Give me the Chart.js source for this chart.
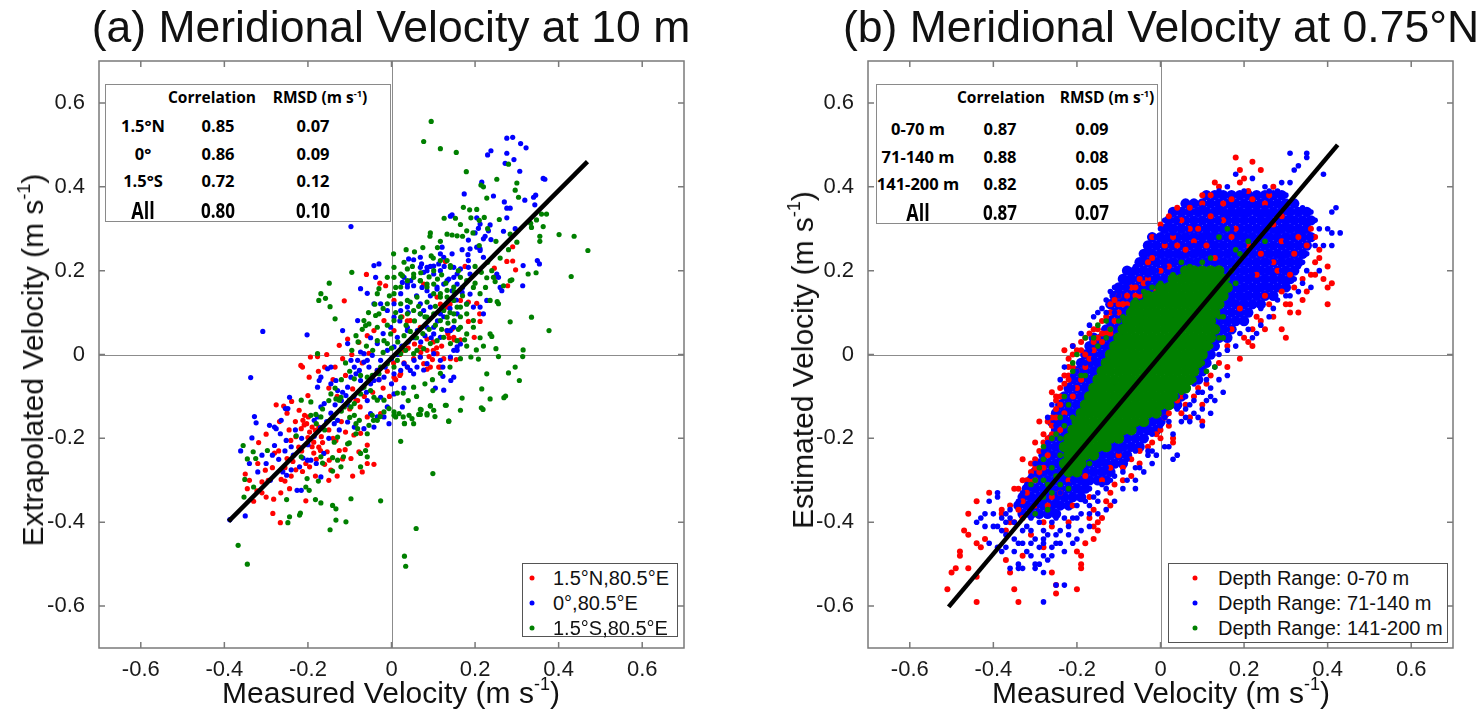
<!DOCTYPE html>
<html>
<head>
<meta charset="utf-8">
<script src="https://cdn.jsdelivr.net/npm/chart.js@4.4.1/dist/chart.umd.min.js"></script>
<style>
  body { margin: 0; background: #fff; width: 1484px; height: 721px; position: relative; overflow: hidden;
         font-family: "Liberation Sans", Arial, sans-serif; color: #111; }
  canvas { position: absolute; top: 0; }
  .c { position: absolute; transform: translate(-50%, -50%); white-space: nowrap; }
  .l { position: absolute; transform: translate(0, -50%); white-space: nowrap; }
  .ttl { font-size: 44.5px; }
  .axt { font-size: 30px; }
  .yt { transform: translate(-50%, -50%) rotate(-90deg); }
  .box { position: absolute; background: #fff; }
  .tb { font-family: "Open Sans", sans-serif; font-weight: 700; color: #000; }
  .dot { position: absolute; width: 5px; height: 5px; border-radius: 50%; transform: translate(-50%, -50%); }
  sup { font-size: 60%; vertical-align: 0.7em; line-height: 0; }
</style>
</head>
<body>
<canvas id="chartA" width="740" height="721" style="left:0"></canvas>
<canvas id="chartB" width="744" height="721" style="left:740px"></canvas>
<script>
// axis ticks shared by both panels
const tickVals = [-0.6, -0.4, -0.2, 0, 0.2, 0.4, 0.6];

// ---- panel (a): meridional velocity at 10 m ----
const seriesA = ['1.5°N,80.5°E', '0°,80.5°E', '1.5°S,80.5°E'];
const rowsA = ['1.5°N', '0°', '1.5°S', 'All'];
const corrA = ['0.85', '0.86', '0.72', '0.80'];
const rmsdA = ['0.07', '0.09', '0.12', '0.10'];
const fitA = [[-0.390, -0.398], [0.469, 0.460]];

const redA = [
  [-0.284,-0.379],[-0.266,-0.401],[-0.282,-0.345],[-0.310,-0.304],[-0.302,-0.276],[-0.264,-0.298],[-0.255,-0.302],
  [-0.280,-0.235],[-0.276,-0.120],[-0.258,-0.123],[-0.239,-0.112],[-0.205,-0.349],[-0.216,-0.177],[-0.212,-0.157],
  [-0.203,-0.165],[-0.199,-0.149],[-0.208,-0.145],[-0.200,-0.098],[-0.197,-0.054],[-0.217,-0.026],[-0.213,-0.030],
  [-0.194,-0.006],[-0.177,-0.005],[-0.170,-0.229],[-0.154,-0.232],[-0.149,-0.252],[-0.145,-0.276],[-0.133,-0.205],
  [-0.125,-0.229],[-0.117,-0.249],[-0.111,-0.227],[-0.097,-0.248],[-0.093,-0.290],[-0.070,-0.280],[-0.058,-0.260],
  [-0.042,-0.262],[-0.078,-0.232],[-0.058,-0.216],[-0.074,-0.188],[-0.090,-0.192],[-0.110,-0.185],[-0.221,-0.133],
  [-0.209,-0.168],[-0.196,-0.185],[-0.190,-0.173],[-0.182,-0.181],[-0.174,-0.173],[-0.168,-0.196],[-0.186,-0.209],
  [-0.200,-0.198],[-0.229,-0.196],[-0.241,-0.205],[-0.222,-0.221],[-0.186,-0.235],[-0.174,-0.221],[-0.236,-0.255],
  [-0.250,-0.248],[-0.229,-0.275],[-0.213,-0.279],[-0.196,-0.268],[-0.182,-0.290],[-0.160,-0.262],[-0.150,-0.300],
  [-0.130,-0.290],[-0.244,-0.320],[-0.340,-0.300],[-0.322,-0.325],[-0.350,-0.285],[-0.300,-0.190],[-0.318,-0.210],
  [-0.268,-0.160],[-0.250,-0.140],
  [-0.113,0.128],[-0.060,0.191],[-0.028,0.170],[-0.125,0.022],[-0.117,-0.010],[-0.105,0.037],[-0.078,0.029],
  [-0.058,0.045],[-0.042,0.057],[-0.054,0.003],[-0.034,-0.038],[-0.081,-0.110],[-0.075,-0.125],[-0.058,-0.149],
  [-0.026,-0.141],[-0.093,-0.082],[-0.140,-0.060],[-0.150,-0.080],[-0.130,-0.100],[-0.110,-0.050],[-0.160,-0.030],
  [-0.020,-0.080],[-0.005,-0.100],[0.010,-0.060],[0.030,-0.020],
  [0.109,0.002],[0.100,0.010],[0.093,-0.030],[0.117,-0.030],[0.141,-0.010],[0.155,-0.012],[0.149,0.041],
  [0.133,0.057],[0.085,0.037],[0.069,0.018],[0.053,-0.010],[0.038,-0.030],[0.022,-0.046],[0.006,-0.054],
  [0.133,0.113],[0.117,0.120],[0.069,0.065],[0.038,0.080],[0.006,0.057],[-0.018,0.081],
  [0.129,0.222],[0.176,0.210],[0.290,0.257],[0.276,0.222],[0.290,0.223],[0.297,0.202],[0.278,0.164],
  [0.246,0.206],[0.248,0.185],[0.204,0.122],[0.184,0.125],[0.184,0.079],[0.212,0.079],[0.198,0.041],
  [0.211,0.097],[0.135,0.050],[0.145,0.061],[0.138,0.040],[0.108,0.016],[0.090,-0.005],[0.098,-0.012],
  [0.113,-0.030],[0.125,-0.010],[0.150,0.035],[0.165,0.035],[0.069,-0.006],[0.030,0.010],[0.020,-0.050],
  [0.077,-0.022],[0.085,-0.035],[0.045,0.081],[0.025,0.090],[0.006,0.129],[-0.014,0.164],[0.077,0.168],
  [0.109,0.137],[0.165,0.129],[0.140,0.120],
  [-0.330,-0.350],[-0.310,-0.330],[-0.295,-0.300],[-0.285,-0.270],[-0.270,-0.230],[-0.255,-0.270],[-0.245,-0.180],
  [-0.230,-0.160],[-0.215,-0.230],[-0.205,-0.260],[-0.190,-0.220],[-0.180,-0.250],[-0.165,-0.210],[-0.150,-0.180],
  [-0.140,-0.200],[-0.120,-0.160],[-0.100,-0.130],[-0.085,-0.110],[-0.065,-0.100],[-0.045,-0.090],[-0.030,-0.060],
  [-0.010,-0.040],[0.005,-0.020],[0.020,0.000],[0.040,0.015],[0.055,0.025],[0.070,0.005],[0.085,0.010],
  [0.100,0.030],[0.120,0.020],[-0.135,-0.030],[-0.095,0.000],[-0.070,-0.020],[-0.155,0.000],[-0.175,-0.040],
  [-0.320,-0.260],[-0.345,-0.320],[-0.300,-0.340],[-0.265,-0.330],[-0.240,-0.290]
];

const blueA = [
  [-0.308,0.055],[-0.202,0.047],[-0.337,-0.055],[-0.328,-0.148],[-0.324,-0.163],[-0.292,-0.169],[-0.280,-0.173],
  [-0.276,-0.177],[-0.264,-0.157],[-0.254,-0.129],[-0.248,-0.129],[-0.244,-0.102],[-0.266,-0.189],[-0.252,-0.205],
  [-0.361,-0.230],[-0.334,-0.199],[-0.280,-0.217],[-0.216,-0.324],[-0.226,-0.324],[-0.251,-0.288],[-0.201,-0.252],
  [-0.193,-0.252],[-0.169,-0.292],[-0.162,-0.236],[-0.220,-0.268],[-0.212,-0.247],[-0.240,-0.275],[-0.350,-0.385],
  [-0.387,-0.394],[-0.185,-0.157],[-0.177,-0.149],[-0.169,-0.125],[-0.161,-0.117],[-0.177,-0.078],[-0.173,-0.062],
  [-0.153,-0.034],[-0.145,-0.030],[-0.169,-0.054],[-0.145,-0.070],[-0.133,-0.062],[-0.129,-0.086],[-0.117,-0.090],
  [-0.109,-0.098],[-0.105,-0.078],[-0.097,-0.054],[-0.089,-0.030],[-0.081,-0.014],[-0.085,-0.046],[-0.077,-0.038],
  [-0.074,-0.062],[-0.058,-0.014],[-0.054,-0.030],[-0.066,-0.018],[-0.117,0.057],[-0.105,0.026],[-0.081,0.081],
  [-0.074,0.157],[-0.058,0.146],[-0.042,0.212],[-0.030,0.216],[-0.038,0.184],[-0.042,0.121],[-0.026,0.121],
  [-0.010,0.105],[0.006,0.121],[0.022,0.145],[0.038,0.161],[0.046,0.176],[0.069,0.208],[0.085,0.208],
  [0.101,0.192],[0.117,0.200],[0.149,0.208],[0.149,0.184],[0.133,0.176],[0.109,0.161],[0.069,0.121],
  [0.077,0.105],[0.101,0.065],[0.133,0.057],[0.149,0.065],[0.038,0.065],[0.014,0.041],[-0.002,0.065],
  [0.006,0.018],[-0.010,0.010],[-0.026,-0.014],[-0.034,-0.038],[-0.042,-0.062],[-0.018,-0.054],[0.006,-0.046],
  [0.022,-0.038],[0.038,-0.030],[0.054,-0.014],[0.069,-0.006],[0.085,-0.022],[0.101,0.002],[0.117,-0.014],
  [0.149,0.010],[0.157,0.018],[0.006,-0.094],[-0.006,-0.165],[-0.018,-0.149],[-0.034,-0.149],[-0.050,-0.141],
  [-0.042,-0.173],[-0.066,-0.177],[-0.089,-0.173],[-0.105,-0.161],[-0.129,-0.157],[-0.137,-0.165],[-0.026,-0.102],
  [-0.058,-0.110],[-0.010,-0.125],[0.026,-0.125],[0.149,-0.054],[0.123,-0.030],[0.061,-0.030],[-0.066,0.002],
  [-0.074,0.006],[-0.097,-0.014],[-0.034,0.026],[-0.046,-0.002],[-0.097,0.305],
  [0.276,0.516],[0.290,0.518],[0.309,0.503],[0.322,0.493],[0.238,0.486],[0.230,0.476],[0.276,0.480],
  [0.293,0.465],[0.272,0.456],[0.307,0.437],[0.363,0.420],[0.367,0.418],[0.216,0.411],[0.244,0.378],
  [0.174,0.383],[0.270,0.364],[0.276,0.349],[0.284,0.349],[0.319,0.368],[0.340,0.375],[0.345,0.380],
  [0.343,0.357],[0.141,0.330],[0.145,0.333],[0.204,0.326],[0.212,0.311],[0.208,0.301],[0.236,0.309],
  [0.232,0.295],[0.276,0.326],[0.296,0.300],[0.268,0.294],[0.184,0.273],[0.200,0.290],[0.224,0.282],
  [0.220,0.276],[0.238,0.274],[0.204,0.256],[0.212,0.252],[0.188,0.252],[0.183,0.238],[0.169,0.250],
  [0.145,0.240],[0.121,0.256],[0.117,0.240],[0.125,0.232],[0.069,0.232],[0.072,0.216],[0.041,0.228],
  [0.053,0.226],[0.093,0.210],[0.101,0.211],[0.085,0.200],[0.077,0.196],[0.113,0.216],[0.126,0.210],
  [0.165,0.204],[0.157,0.192],[0.184,0.224],[0.184,0.208],[0.188,0.192],[0.212,0.248],[0.220,0.232],
  [0.252,0.192],[0.256,0.184],[0.260,0.160],[0.264,0.152],[0.315,0.212],[0.349,0.224],[0.354,0.216],
  [0.314,0.164],[0.030,0.184],[0.026,0.172],[0.038,0.168],[0.053,0.164],[0.073,0.160],[0.085,0.152],
  [0.093,0.140],[0.109,0.156],[0.125,0.168],[0.137,0.180],[0.157,0.168],[0.145,0.152],[0.169,0.148],
  [0.188,0.144],[0.180,0.121],[0.196,0.113],[0.212,0.113],[0.228,0.129],[0.220,0.097],[0.157,0.097],
  [0.117,0.097],[0.093,0.113],[0.069,0.097],[0.038,0.113],[0.022,0.105],[0.006,0.089],[0.038,0.057],
  [0.062,0.057],[0.085,0.065],[0.101,0.049],[0.117,0.041],[0.141,0.057],[0.165,0.025],[0.157,0.010],
  [0.141,-0.006],[0.123,-0.052],[0.142,-0.062],[0.077,-0.037],[0.053,-0.046],[0.045,-0.038],[0.030,-0.022],
  [0.105,-0.080],[0.125,-0.085],
  [-0.300,-0.260],[-0.285,-0.240],[-0.270,-0.250],[-0.255,-0.230],[-0.240,-0.220],[-0.230,-0.180],[-0.215,-0.200],
  [-0.200,-0.215],[-0.185,-0.195],[-0.170,-0.175],[-0.155,-0.160],[-0.145,-0.140],[-0.135,-0.120],[-0.120,-0.110],
  [-0.105,-0.120],[-0.090,-0.100],[-0.070,-0.080],[-0.060,-0.090],[-0.050,-0.070],[-0.030,-0.060],[-0.015,-0.030],
  [0.000,-0.010],[0.015,0.000],[0.025,0.020],[0.040,0.030],[0.055,0.040],[0.070,0.030],[0.080,0.045],
  [0.095,0.040],[0.110,0.080],[0.125,0.090],[0.140,0.110],[0.155,0.130],[0.170,0.160],[0.060,0.140],
  [0.040,0.100],[0.020,0.080],[-0.020,0.050],[-0.050,0.040],[-0.260,-0.280],[-0.290,-0.300],[-0.320,-0.280],
  [-0.340,-0.260],[-0.310,-0.240],[-0.235,-0.240],[-0.180,-0.260],[-0.150,-0.200],[-0.125,-0.180],[0.000,-0.070],
  [0.030,-0.080]
];

const greenA = [
  [-0.367,-0.455],[-0.345,-0.500],[0.031,-0.481],[0.034,-0.505],[0.059,-0.415],[0.099,-0.284],[-0.026,-0.349],
  [-0.097,-0.344],[-0.133,-0.395],[-0.147,-0.418],[-0.109,-0.399],[-0.220,-0.383],[-0.218,-0.378],[-0.244,-0.387],
  [-0.248,-0.401],[-0.251,-0.346],[-0.182,-0.346],[-0.169,-0.354],[-0.141,-0.360],[-0.133,-0.368],[-0.351,-0.298],
  [-0.330,-0.316],[-0.353,-0.340],[-0.355,-0.217],[-0.331,-0.232],[-0.345,-0.249],[-0.325,-0.248],[-0.297,-0.229],
  [-0.202,-0.296],[-0.197,-0.324],[-0.205,-0.316],[-0.175,-0.302],[0.022,-0.207],[0.069,-0.131],[0.093,-0.123],
  [0.069,-0.143],[0.085,-0.144],[0.104,-0.148],[0.129,-0.121],[0.137,-0.159],[0.031,-0.165],[0.053,-0.078],
  [0.028,-0.092],[0.014,-0.092],
  [-0.169,0.145],[-0.174,0.129],[-0.158,0.134],[-0.149,0.170],[-0.095,0.196],[-0.135,0.085],[-0.147,0.114],
  [-0.177,0.002],[-0.085,0.045],[-0.066,0.081],[-0.062,0.069],[-0.054,0.073],[-0.038,0.093],[-0.034,0.145],
  [-0.030,0.157],[-0.030,0.097],[-0.034,0.065],[-0.216,-0.109],[-0.193,-0.145],[-0.181,-0.143],[-0.193,-0.113],
  [-0.169,-0.149],[-0.228,-0.194],[-0.216,-0.244],[-0.169,-0.244],[-0.165,-0.259],[-0.141,-0.278],[-0.129,-0.252],
  [-0.141,-0.246],[-0.137,-0.209],[-0.129,-0.197],[-0.105,-0.213],[-0.101,-0.211],[-0.085,-0.189],[-0.081,-0.177],
  [-0.058,-0.189],[-0.054,-0.169],[-0.043,-0.157],[-0.046,-0.145],[-0.034,-0.157],[-0.027,-0.148],[-0.018,-0.137],
  [-0.006,-0.129],[0.006,-0.137],[0.010,-0.149],[0.028,-0.149],[0.042,-0.145],[0.065,-0.143],[0.053,-0.165],
  [-0.074,-0.236],[-0.062,-0.229],[-0.058,-0.244],[-0.074,-0.268],[-0.121,-0.268],[-0.115,-0.244],[-0.077,-0.157],
  [-0.089,-0.145],[-0.097,-0.125],[-0.089,-0.117],[-0.101,-0.109],[-0.121,-0.102],[-0.125,-0.109],[-0.113,-0.125],
  [-0.133,-0.106],[-0.145,-0.094],[-0.074,-0.094],[-0.066,-0.078],[-0.050,-0.086],[-0.042,-0.102],[-0.034,-0.109],
  [-0.018,-0.109],[-0.089,-0.058],[-0.074,-0.050],[-0.058,-0.054],[-0.046,-0.050],[-0.026,-0.030],[-0.010,-0.022],
  [-0.030,-0.046],[0.006,-0.030],[0.014,-0.014],[0.022,0.002],[0.034,0.010],[0.053,0.002],[0.061,0.010],
  [0.077,0.014],[0.093,0.026],[0.109,0.033],[0.125,0.041],[0.141,0.026],[0.157,0.033],[-0.010,0.026],
  [-0.018,0.033],[-0.002,0.049],[-0.034,0.033],[0.006,0.081],[0.022,0.089],[0.038,0.097],[0.053,0.105],
  [0.069,0.097],[0.085,0.089],[0.101,0.097],[0.117,0.081],[0.133,0.089],[0.149,0.097],[0.157,0.113],
  [-0.010,0.121],[0.006,0.145],[0.022,0.161],[0.038,0.176],[0.053,0.184],[0.069,0.176],[0.085,0.161],
  [0.101,0.168],[0.101,0.145],[0.117,0.137],[0.133,0.153],[0.149,0.161],[0.022,0.121],[0.038,0.129],
  [0.061,0.137],[-0.010,0.184],[0.006,0.208],[0.026,0.188],[0.006,0.184],[0.038,0.204],[0.117,0.224],
  [0.141,0.212],
  [0.095,0.556],[0.077,0.508],[0.117,0.491],[0.155,0.482],[0.179,0.436],[0.252,0.418],[0.280,0.454],
  [0.300,0.409],[0.296,0.392],[0.304,0.375],[0.220,0.400],[0.214,0.404],[0.228,0.373],[0.172,0.351],
  [0.187,0.345],[0.204,0.346],[0.190,0.326],[0.222,0.327],[0.126,0.325],[0.153,0.325],[0.258,0.322],
  [0.165,0.310],[0.180,0.295],[0.093,0.290],[0.092,0.282],[0.133,0.287],[0.145,0.285],[0.157,0.283],
  [0.117,0.270],[0.170,0.282],[0.284,0.287],[0.300,0.268],[0.335,0.303],[0.333,0.313],[0.347,0.321],
  [0.363,0.305],[0.371,0.335],[0.359,0.335],[0.401,0.286],[0.437,0.282],[0.470,0.248],[0.355,0.282],
  [0.355,0.270],[0.430,0.186],[0.327,0.192],[0.346,0.195],[0.284,0.176],[0.288,0.178],[0.268,0.164],
  [0.248,0.174],[0.244,0.184],[0.228,0.183],[0.256,0.121],[0.253,0.126],[0.236,0.129],[0.236,0.049],
  [0.240,0.043],[0.284,0.078],[0.335,0.089],[0.377,0.057],[0.315,0.011],[0.314,-0.005],[0.296,-0.030],
  [0.280,-0.044],[0.306,-0.062],[0.273,-0.099],[0.269,-0.103],[0.236,-0.106],[0.215,-0.127],[0.219,-0.131],
  [0.216,-0.082],[0.256,-0.005],[0.250,0.014],[0.228,-0.046],[0.208,-0.011],[0.190,-0.006],[0.203,0.011],
  [0.169,-0.104],[0.165,-0.133],[0.137,-0.159],[0.131,-0.121],[0.099,-0.086],[0.093,-0.122],[0.101,-0.133],
  [0.085,-0.141],[0.071,-0.132],[0.049,-0.153],[0.031,-0.164],[0.018,-0.141],[0.006,-0.145],
  [0.022,0.192],[0.053,0.192],[0.069,0.176],[0.085,0.168],[0.117,0.145],[0.133,0.137],[0.149,0.129],
  [0.165,0.113],[0.180,0.097],[0.196,0.081],[0.212,0.145],[0.196,0.160],[0.180,0.176],[0.165,0.184],
  [0.141,0.208],[0.133,0.224],[0.101,0.200],[0.196,0.065],[0.180,0.049],[0.165,0.065],[0.212,0.040],
  [0.220,0.020],[0.180,0.020],[0.165,-0.010],[0.140,-0.030],[0.117,-0.045],[0.098,-0.060],[0.080,-0.070],
  [0.060,-0.100],[0.040,-0.110],[0.200,0.210],[0.215,0.196],[0.230,0.220],[0.095,0.235],[0.075,0.255],
  [0.055,0.245],[0.035,0.250],[0.005,0.240],[0.110,0.255],
  [-0.060,0.020],[-0.045,0.010],[-0.020,0.005],[0.000,0.015],[0.015,0.030],[0.030,0.045],[0.045,0.055],
  [0.060,0.040],[0.075,0.050],[0.090,0.060],[0.105,0.070],[0.120,0.060],[0.135,0.075],[0.150,0.080],
  [0.165,0.090],[0.180,0.120],[0.170,0.140],[0.150,0.150],[0.130,0.170],[0.110,0.180],[0.090,0.185],
  [0.070,0.195],[0.050,0.210],[0.030,0.220],[0.010,0.160],[-0.005,0.140],[-0.020,0.110],[-0.040,0.120],
  [-0.055,0.100],[-0.070,0.060],[-0.080,0.030],[-0.095,0.010],[-0.110,-0.020],[-0.100,-0.040],[-0.120,-0.060],
  [-0.135,-0.080],[-0.150,-0.110],[-0.165,-0.130],[-0.180,-0.165],[-0.160,-0.180],[-0.140,-0.150],[-0.120,-0.135],
  [-0.100,-0.150],[-0.085,-0.165],[0.045,0.125],[0.065,0.115],[0.085,0.125],[0.105,0.115],[0.125,0.105],
  [0.140,0.100],[0.160,0.060],[0.175,0.035],[0.035,0.070],[0.055,0.080],[0.080,0.090],[0.010,0.100],
  [-0.010,0.070],[0.120,0.190],[0.100,0.230],[0.160,0.200],[0.200,0.170],[0.225,0.160],[0.240,0.200],
  [0.260,0.230],[0.280,0.250],[0.250,0.270],[0.230,0.300],[0.210,0.260],[0.195,0.290],[0.210,0.320]
];

// ---- panel (b): meridional velocity at 0.75°N ----
const seriesB = ['Depth Range: 0-70 m', 'Depth Range: 71-140 m', 'Depth Range: 141-200 m'];
const rowsB = ['0-70 m', '71-140 m', '141-200 m', 'All'];
const corrB = ['0.87', '0.88', '0.82', '0.87'];
const rmsdB = ['0.09', '0.08', '0.05', '0.07'];
const fitB = [[-0.507, -0.602], [0.424, 0.500]];

const redB = [
  [-0.51,-0.56],[-0.49,-0.51],[-0.50,-0.52],[-0.47,-0.42],[-0.46,-0.43],[-0.48,-0.47],[-0.48,-0.48],[-0.46,-0.38],
  [-0.44,-0.35],[-0.41,-0.33],[-0.44,-0.45],[-0.43,-0.46],[-0.42,-0.44],[-0.44,-0.53],[-0.44,-0.59],[-0.46,-0.51],
  [-0.35,-0.56],[-0.34,-0.59],[-0.36,-0.52],[-0.37,-0.49],[-0.33,-0.48],[-0.38,-0.37],[-0.38,-0.38],[-0.36,-0.36],
  [-0.35,-0.32],[-0.34,-0.32],[-0.33,-0.30],[-0.32,-0.30],[-0.31,-0.28],[-0.30,-0.25],[-0.29,-0.23],[-0.30,-0.21],
  [-0.28,-0.27],[-0.26,-0.17],[-0.26,-0.19],[-0.25,-0.15],[-0.27,-0.16],[-0.26,-0.09],[-0.25,-0.10],[-0.24,-0.08],
  [-0.22,-0.06],[-0.22,-0.05],[-0.21,-0.03],[-0.20,0.01],[-0.19,0.01],[-0.18,0.00],[-0.17,-0.01],[-0.16,0.03],
  [-0.14,0.03],[-0.15,0.04],[-0.14,0.05],[-0.12,0.06],[-0.12,0.05],[-0.11,0.08],[-0.10,0.12],[-0.09,0.12],
  [-0.11,0.13],[-0.06,0.14],[-0.05,0.14],[-0.02,0.14],[-0.01,0.15],[-0.28,-0.21],[-0.26,-0.20],[-0.30,-0.30],
  [-0.26,-0.34],[-0.27,-0.36],[-0.28,-0.40],[-0.26,-0.41],[-0.28,-0.46],[-0.26,-0.52],[-0.25,-0.55],[-0.25,-0.57],
  [-0.20,-0.56],[-0.19,-0.48],[-0.19,-0.50],[-0.19,-0.51],[-0.20,-0.47],[-0.16,-0.44],[-0.15,-0.42],[-0.15,-0.40],
  [-0.16,-0.37],[-0.17,-0.34],[-0.17,-0.39],[-0.13,-0.35],[-0.12,-0.33],[-0.11,-0.31],[-0.07,-0.29],[-0.09,-0.27],
  [-0.07,-0.25],[-0.05,-0.23],[-0.03,-0.22],[-0.01,-0.19],[0.00,-0.18],[0.01,-0.15],[0.02,-0.14],[0.03,-0.21],
  [0.03,-0.20],[0.07,-0.15],[0.10,-0.16],[0.10,-0.12],
  [-0.23,-0.07],[-0.24,-0.12],[-0.23,-0.14],[-0.25,-0.13],[-0.21,-0.10],[-0.20,-0.04],[-0.19,-0.06],[-0.22,-0.01],
  [-0.23,0.01],[-0.21,0.02],[-0.18,0.04],[-0.16,0.06],[-0.13,0.09],[-0.12,0.10],[-0.08,0.14],[-0.07,0.16],
  [-0.04,0.17],[-0.29,-0.16],[-0.31,-0.26],[-0.33,-0.25],[-0.32,-0.33],[-0.30,-0.36],[-0.33,-0.39],[-0.35,-0.40],
  [-0.31,-0.43],[-0.22,-0.30],[-0.24,-0.33],[-0.21,-0.36],[-0.22,-0.40],[-0.18,-0.29],[-0.14,-0.30],[-0.12,-0.27],
  [-0.10,-0.24],
  [-0.27,-0.20],[-0.26,-0.15],[-0.25,-0.11],[-0.24,-0.10],[-0.23,-0.05],[-0.22,-0.03],[-0.21,0.00],[-0.19,0.03],
  [-0.17,0.05],[-0.15,0.06],[-0.14,0.08],[-0.12,0.12],[-0.30,-0.27],[-0.31,-0.30],[-0.29,-0.28],[-0.27,-0.24],
  [-0.28,-0.19],[-0.24,-0.18],[-0.20,-0.08],[-0.18,-0.03],[-0.16,0.01],[-0.13,0.05],[-0.10,0.10],[-0.08,0.12],
  [-0.06,0.16],[-0.03,0.18],[-0.33,-0.35],[-0.34,-0.37],[-0.36,-0.40],[-0.37,-0.42],
  [-0.09,-0.30],[-0.05,-0.26],[-0.02,-0.21],[0.00,-0.20],[0.02,-0.17],[0.05,-0.14],[-0.12,-0.36],[-0.14,-0.39],
  [-0.16,-0.41],[-0.18,-0.45],
  [0.18,0.47],[0.22,0.46],[0.24,0.44],[0.19,0.44],[0.19,0.41],[0.13,0.41],[0.12,0.38],[0.10,0.36],
  [0.09,0.30],[0.07,0.30],[0.05,0.32],[0.04,0.35],[0.15,0.36],[0.17,0.37],[0.22,0.37],[0.26,0.38],
  [0.21,0.39],[0.25,0.36],[-0.02,0.23],[-0.03,0.22],[-0.10,0.14],[-0.09,0.12],[-0.12,0.10],[0.40,0.21],
  [0.39,0.18],[0.41,0.17],[0.40,0.16],[0.40,0.12],[0.35,0.15],[0.36,0.19],[0.33,0.10],[0.31,0.10],
  [0.31,0.12],[0.29,0.06],[0.30,0.04],[0.24,0.08],[0.23,0.09],[0.22,0.06],[0.21,0.03],[0.20,0.04],
  [0.31,0.19],[0.29,0.15],[0.37,0.19],[0.18,0.30],[0.17,0.28],[0.21,0.26],[0.24,0.24],[0.29,0.27],
  [0.28,0.20],[0.23,0.19],[0.27,0.22],[0.32,0.24],[0.33,0.28],[0.35,0.26],[0.06,0.25],[0.04,0.26],
  [0.03,0.28],[0.01,0.26],[0.08,0.27],[0.11,0.26],[0.00,0.20],[0.02,0.21],[-0.05,0.18],[0.13,0.23],
  [0.26,0.12],[0.25,0.14],[0.19,0.11],[0.17,0.06],[0.16,0.02],[0.14,-0.02],[0.12,-0.05],[0.09,-0.08],
  [0.05,-0.10],[0.34,0.13],[0.38,0.23],[0.29,0.33],[0.27,0.31],[0.15,0.32],[0.12,0.33],[0.07,-0.15],
  [0.04,-0.11],[0.06,-0.12],[0.08,-0.10],[0.11,-0.07],
  [0.36,0.30],[0.37,0.28],[0.38,0.25],[0.37,0.22],[0.34,0.18],[0.32,0.16],[0.30,0.12],[0.27,0.09],
  [0.25,0.06],[0.22,0.02],[0.19,-0.01],[0.16,-0.03],[0.10,0.38],[0.14,0.40],[0.20,0.42],[0.27,0.40],
  [0.07,0.35],[0.02,0.33],[0.00,0.31],[-0.02,0.28]
];

const blueB = [
  [-0.43,-0.39],[-0.42,-0.41],[-0.41,-0.35],[-0.39,-0.33],[-0.39,-0.34],[-0.40,-0.38],[-0.39,-0.41],[-0.41,-0.45],
  [-0.39,-0.46],[-0.38,-0.47],[-0.37,-0.46],[-0.35,-0.44],[-0.34,-0.45],[-0.34,-0.50],[-0.33,-0.51],[-0.30,-0.50],
  [-0.30,-0.51],[-0.29,-0.50],[-0.28,-0.48],[-0.27,-0.49],[-0.26,-0.46],[-0.28,-0.45],[-0.29,-0.46],[-0.31,-0.45],
  [-0.30,-0.44],[-0.28,-0.44],[-0.28,-0.42],[-0.25,-0.43],[-0.24,-0.42],[-0.24,-0.45],[-0.22,-0.41],[-0.22,-0.43],
  [-0.21,-0.45],[-0.20,-0.44],[-0.20,-0.39],[-0.19,-0.38],[-0.20,-0.36],[-0.18,-0.35],[-0.17,-0.36],[-0.17,-0.38],
  [-0.16,-0.34],[-0.15,-0.33],[-0.14,-0.31],[-0.12,-0.30],[-0.11,-0.29],[-0.09,-0.28],[-0.08,-0.30],[-0.06,-0.30],
  [-0.06,-0.27],[-0.05,-0.27],[-0.03,-0.23],[-0.02,-0.23],[-0.01,-0.24],[0.02,-0.22],[0.03,-0.19],[0.05,-0.16],
  [0.07,-0.16],[0.08,-0.14],[0.10,-0.13],[0.11,-0.11],[-0.04,-0.20],[-0.06,-0.20],[-0.09,-0.22],[-0.10,-0.23],
  [-0.12,-0.24],[-0.14,-0.25],[-0.16,-0.25],[-0.18,-0.27],[-0.19,-0.28],[-0.21,-0.30],[-0.22,-0.31],[-0.24,-0.33],
  [-0.25,-0.35],[-0.26,-0.37],[-0.27,-0.38],[-0.29,-0.36],[-0.30,-0.38],[-0.31,-0.39],[-0.32,-0.41],[-0.33,-0.42],
  [-0.35,-0.40],[-0.36,-0.39],[-0.37,-0.40],[-0.38,-0.42],[-0.28,-0.52],[-0.28,-0.59],[-0.25,-0.55],[-0.23,-0.55],
  [-0.34,-0.51],[-0.36,-0.51],[-0.32,-0.47],
  [-0.15,0.10],[-0.13,0.10],[-0.10,0.15],[-0.08,0.16],[-0.11,0.10],[-0.09,0.08],[-0.08,0.11],[-0.06,0.12],
  [-0.05,0.15],[-0.03,0.17],[-0.01,0.17],[-0.17,0.01],[-0.16,-0.01],[-0.18,-0.02],[-0.20,-0.04],[-0.21,-0.05],
  [-0.21,-0.08],[-0.22,-0.11],[-0.22,-0.13],[-0.23,-0.15],[-0.24,-0.16],[-0.25,-0.17],[-0.26,-0.20],[-0.27,-0.21],
  [-0.28,-0.23],[-0.30,-0.26],[-0.31,-0.29],[-0.32,-0.31],[-0.33,-0.33],[-0.34,-0.35],[-0.36,-0.37],[-0.37,-0.38],
  [-0.38,-0.39],
  [0.03,-0.06],[0.06,-0.06],[0.08,-0.07],[0.06,-0.10],[0.04,-0.10],[0.02,-0.11],[0.00,-0.12],[0.01,-0.15],
  [-0.01,-0.15],[-0.03,-0.16],[-0.04,-0.17],[-0.06,-0.17],[-0.08,-0.18],[-0.09,-0.20],[-0.11,-0.21],[-0.12,-0.21],
  [-0.14,-0.23],[-0.15,-0.24],[-0.17,-0.24],[-0.18,-0.26],[-0.20,-0.26],[-0.21,-0.28],[-0.23,-0.29],[-0.24,-0.30],
  [-0.26,-0.32],[-0.27,-0.33],[-0.28,-0.35],[-0.30,-0.35],[-0.31,-0.36],[-0.20,-0.32],[-0.18,-0.31],[-0.16,-0.30],
  [-0.14,-0.28],[-0.13,-0.27],[-0.11,-0.26],[-0.08,-0.25],[-0.06,-0.23],[-0.02,-0.19],[0.00,-0.17],[0.02,-0.16],
  [0.04,-0.13],[0.06,-0.13],[0.08,-0.11],[0.09,-0.09],[0.07,-0.12],[-0.23,-0.36],[-0.21,-0.34],[-0.19,-0.33],
  [-0.17,-0.32],[-0.15,-0.35],[-0.13,-0.32],[-0.25,-0.39],[-0.23,-0.39],[-0.21,-0.39],[-0.26,-0.40],[-0.31,-0.42],
  [-0.29,-0.40],[-0.27,-0.43],[-0.25,-0.45],[-0.23,-0.47],[-0.26,-0.48],[-0.31,-0.48],[-0.33,-0.45],[-0.35,-0.47],
  [-0.37,-0.43],[-0.40,-0.41],[-0.42,-0.38],[-0.44,-0.40],
  [0.10,-0.17],[0.09,-0.15],[0.06,-0.15],[0.03,-0.25],[0.04,-0.24],[0.01,-0.22],[-0.02,-0.26],[-0.03,-0.24],
  [-0.04,-0.28],[-0.06,-0.32],[-0.09,-0.32],[-0.11,-0.35],[-0.13,-0.37],[-0.15,-0.38],[-0.17,-0.41],[-0.19,-0.42],
  [0.13,-0.11],[0.15,-0.09],[0.12,-0.08],[0.14,-0.06],[0.16,-0.05],[0.12,-0.14],[0.05,-0.08],
  [0.31,0.48],[0.35,0.48],[0.35,0.47],[0.33,0.45],[0.32,0.44],[0.39,0.43],[0.42,0.35],[0.41,0.34],
  [0.43,0.29],[0.41,0.29],[0.40,0.30],[0.41,0.26],[0.39,0.26],[0.37,0.26],[0.38,0.30],[0.29,0.41],
  [0.31,0.41],[0.28,0.39],[0.25,0.40],[0.26,0.39],[0.22,0.42],[0.18,0.43],[0.16,0.40],[0.14,0.39],
  [0.20,0.39],[0.23,0.38],[0.30,0.38],[0.32,0.36],[0.34,0.35],[0.36,0.34],[0.37,0.32],[0.35,0.31],
  [0.33,0.32],[0.31,0.33],[0.29,0.35],[0.27,0.36],[0.25,0.35],[0.23,0.35],[0.21,0.35],[0.19,0.36],
  [0.17,0.35],[0.14,0.35],[0.12,0.36],[0.10,0.35],[0.08,0.34],[0.06,0.34],[0.03,0.34],[0.01,0.32],
  [0.00,0.30],[0.02,0.31],[-0.01,0.28],[0.01,0.27],[-0.02,0.26],[-0.03,0.25],[-0.04,0.23],[-0.06,0.21],
  [-0.07,0.19],[-0.08,0.17],[-0.09,0.16],[-0.11,0.16],[-0.12,0.15],[-0.13,0.13],[0.04,0.32],[0.06,0.30],
  [0.08,0.31],[0.10,0.32],[0.12,0.31],[0.14,0.32],[0.16,0.33],[0.18,0.33],[0.20,0.33],[0.22,0.32],
  [0.24,0.33],[0.26,0.33],[0.28,0.32],[0.30,0.31],[0.32,0.30],[0.34,0.29],[0.36,0.28],[0.35,0.24],
  [0.34,0.22],[0.33,0.21],[0.35,0.20],[0.32,0.18],[0.30,0.17],[0.28,0.16],[0.30,0.14],[0.28,0.13],
  [0.27,0.11],[0.26,0.09],[0.24,0.11],[0.22,0.12],[0.20,0.13],[0.19,0.15],[0.21,0.16],[0.23,0.15],
  [0.25,0.17],[0.27,0.19],[0.29,0.20],[0.31,0.22],[0.29,0.23],[0.27,0.24],[0.25,0.26],[0.23,0.27],
  [0.21,0.28],[0.19,0.29],[0.17,0.30],[0.15,0.30],[0.13,0.29],[0.11,0.29],[0.09,0.28],[0.07,0.28],
  [0.05,0.28],[0.03,0.29],[0.01,0.24],[0.03,0.24],[0.05,0.23],[0.07,0.24],[0.09,0.25],[0.11,0.24],
  [0.13,0.25],[0.15,0.26],[0.17,0.25],[0.19,0.24],[0.21,0.22],[0.23,0.21],[0.25,0.20],[0.26,0.22],
  [0.22,0.19],[0.20,0.20],[0.18,0.21],[0.16,0.22],[0.17,0.19],[0.19,0.18],[0.18,0.16],[0.17,0.13],
  [0.17,0.10],[0.18,0.08],[0.20,0.08],[0.21,0.10],[0.16,0.06],[0.15,0.04],[0.13,0.02],[0.12,0.00],
  [0.11,-0.02],[0.10,-0.04],[0.14,0.00],[0.16,0.01],[0.18,0.02],[0.19,0.05],[0.22,0.04],[0.13,-0.03],
  [0.11,-0.06],[0.10,-0.09],[0.12,-0.10],[-0.03,0.19],[-0.01,0.20],[0.01,0.21],[0.03,0.20],[-0.05,0.20],
  [-0.10,0.14],[-0.14,0.11],[-0.16,0.09],[-0.17,0.07],[-0.19,0.05],[-0.21,0.02],[-0.23,-0.03],[-0.24,-0.06],
  [-0.26,-0.12],[-0.27,-0.15],[0.28,0.29],[0.30,0.27],[0.32,0.26],[0.38,0.20],[0.36,0.16],[0.33,0.15],
  [0.31,0.14],[0.34,0.17],[0.24,0.07],[0.23,0.05],[0.21,0.06],[0.25,0.31],[0.27,0.28],[0.24,0.29],
  [0.22,0.25],[0.20,0.26],[0.18,0.27],[0.14,0.28],[0.12,0.27],[0.10,0.27],[0.08,0.26]
];

// dense part of the 71-140 m cloud: each row is [y, [x values]]
const blueCoreB = [
  [0.38, [0.11,0.13,0.15,0.17,0.19,0.21,0.23,0.25,0.27,0.29]],
  [0.36, [0.06,0.08,0.10,0.12,0.14,0.16,0.18,0.20,0.22,0.24,0.26,0.28,0.30,0.32]],
  [0.34, [0.03,0.05,0.07,0.09,0.11,0.13,0.15,0.17,0.19,0.21,0.23,0.25,0.27,0.29,0.31,0.33,0.35]],
  [0.32, [0.02,0.04,0.06,0.08,0.10,0.12,0.14,0.16,0.18,0.20,0.22,0.24,0.26,0.28,0.30,0.32,0.34,0.36]],
  [0.30, [0.01,0.03,0.05,0.07,0.09,0.11,0.13,0.15,0.17,0.19,0.21,0.23,0.25,0.27,0.29,0.31,0.33,0.35]],
  [0.28, [-0.02,0.00,0.02,0.04,0.06,0.08,0.10,0.12,0.14,0.16,0.18,0.20,0.22,0.24,0.26,0.28,0.30,0.32,0.34,0.36]],
  [0.26, [-0.03,-0.01,0.01,0.03,0.05,0.07,0.09,0.11,0.13,0.15,0.17,0.19,0.21,0.23,0.25,0.27,0.29,0.31,0.33,0.35]],
  [0.24, [-0.04,-0.02,0.00,0.02,0.04,0.06,0.08,0.10,0.12,0.14,0.16,0.18,0.20,0.22,0.24,0.26,0.28,0.30,0.32,0.34]],
  [0.22, [-0.05,-0.03,-0.01,0.01,0.03,0.05,0.07,0.09,0.11,0.13,0.15,0.17,0.19,0.21,0.23,0.25,0.27,0.29,0.31,0.33]],
  [0.20, [-0.08,-0.06,-0.04,-0.02,0.00,0.02,0.04,0.06,0.14,0.16,0.18,0.20,0.22,0.24,0.26,0.28,0.30,0.32]],
  [0.18, [-0.09,-0.07,-0.05,-0.03,-0.01,0.01,0.03,0.15,0.17,0.19,0.21,0.23,0.25,0.27,0.29,0.31]],
  [0.16, [-0.10,-0.08,-0.06,-0.04,-0.02,0.00,0.16,0.18,0.20,0.22,0.24,0.26,0.28,0.30]],
  [0.14, [-0.11,-0.09,-0.07,-0.05,-0.03,0.15,0.17,0.19,0.21,0.23,0.25,0.27]],
  [0.12, [-0.12,-0.10,-0.08,-0.06,0.14,0.16,0.18,0.20,0.22,0.24]],
  [0.10, [-0.11,-0.09,-0.07,0.13,0.15,0.17,0.19,0.21]],
  [0.08, [-0.12,-0.10,-0.08,0.12,0.14,0.16,0.18,0.20]],
  [0.06, [-0.13,-0.11,-0.09,0.13,0.15,0.17]],
  [0.04, [-0.16,-0.14,-0.12,-0.10,0.12,0.14,0.16]],
  [0.02, [-0.17,-0.15,-0.13,-0.11,0.11,0.13]],
  [0.00, [-0.18,-0.16,-0.14,-0.12,0.10,0.12]],
  [-0.02, [-0.19,-0.17,-0.15,-0.13,0.09,0.11]],
  [-0.04, [-0.20,-0.18,-0.16,-0.14,0.08,0.10]],
  [-0.06, [-0.21,-0.19,-0.17,-0.15,0.07,0.09]],
  [-0.08, [-0.22,-0.20,-0.18,-0.16,0.06]],
  [-0.10, [-0.23,-0.21,-0.19,-0.17,0.03,0.05]],
  [-0.12, [-0.24,-0.22,-0.20,-0.18,0.02,0.04]],
  [-0.14, [-0.25,-0.23,-0.21,-0.19,-0.01,0.01]],
  [-0.16, [-0.26,-0.24,-0.22,-0.20,-0.04,-0.02,0.00]],
  [-0.18, [-0.25,-0.23,-0.21,-0.07,-0.05,-0.03,-0.01]],
  [-0.20, [-0.26,-0.24,-0.22,-0.20,-0.10,-0.08,-0.06,-0.04]],
  [-0.22, [-0.27,-0.25,-0.23,-0.21,-0.13,-0.11,-0.09,-0.07,-0.05]],
  [-0.24, [-0.28,-0.26,-0.24,-0.22,-0.20,-0.16,-0.14,-0.12,-0.10,-0.08]],
  [-0.26, [-0.29,-0.27,-0.25,-0.23,-0.21,-0.19,-0.17,-0.15,-0.13,-0.11,-0.09]],
  [-0.28, [-0.30,-0.28,-0.26,-0.24,-0.22,-0.20,-0.18,-0.16,-0.14,-0.12]],
  [-0.30, [-0.31,-0.29,-0.27,-0.25,-0.23,-0.21,-0.19,-0.17,-0.15,-0.13]],
  [-0.32, [-0.32,-0.30,-0.28,-0.26,-0.24,-0.22,-0.20,-0.18]],
  [-0.34, [-0.33,-0.31,-0.29,-0.27,-0.25,-0.23,-0.21,-0.19]],
  [-0.36, [-0.34,-0.32,-0.30,-0.28,-0.26,-0.24,-0.22]],
  [-0.38, [-0.33,-0.31,-0.29,-0.27,-0.25]]
];

const greenB = [
  [-0.18,0.04],[-0.16,0.04],[-0.13,0.04],[-0.14,-0.06],[-0.21,-0.02],[-0.21,-0.04],[-0.19,-0.05],[-0.18,-0.05],
  [-0.23,-0.10],[-0.22,-0.12],[-0.21,-0.15],[-0.24,-0.15],[-0.25,-0.19],[-0.26,-0.20],[-0.28,-0.22],[-0.28,-0.25],
  [-0.29,-0.27],[-0.30,-0.30],[-0.31,-0.31],[-0.28,-0.30],[-0.27,-0.31],[-0.26,-0.33],[-0.28,-0.34],[-0.27,-0.37],
  [-0.30,-0.38],[-0.23,-0.27],[-0.20,-0.25],[-0.19,-0.23],[-0.17,-0.23],[-0.16,-0.22],[-0.14,-0.21],[-0.12,-0.19],
  [-0.11,-0.17],[-0.09,-0.17],[-0.08,-0.15],[-0.06,-0.14],[-0.05,-0.13],[-0.03,-0.13],[-0.01,-0.12],[0.00,-0.11],
  [0.02,-0.09],[0.04,-0.08],[0.06,-0.06],[0.08,-0.04],[0.10,-0.02],[0.12,0.02],[0.14,0.04],[0.15,0.09],
  [0.14,0.28],[0.16,0.30],[0.21,0.27],[0.25,0.27],[0.18,0.25],[0.19,0.24],[0.12,0.23],[0.10,0.22],
  [0.05,0.22],[0.07,0.21],[0.03,0.19],[0.00,0.17],[-0.02,0.16],[-0.07,0.11],[-0.09,0.09],[-0.10,0.08],
  [-0.12,0.06],[-0.06,0.13],[0.14,0.09],[0.15,0.04],[0.13,-0.03],[0.11,-0.04],[0.08,-0.06],[0.05,-0.09],
  [-0.11,-0.20],[-0.13,-0.22],[-0.15,-0.20],[-0.18,-0.20],[-0.22,-0.22],[-0.24,-0.24],[-0.17,-0.26],[-0.19,-0.27],
  [-0.24,-0.20],[-0.23,-0.17],[-0.20,0.00],[-0.15,0.02],[-0.15,0.07],[-0.13,0.08],[-0.04,0.15],[0.17,0.20],
  [0.16,0.18],[0.18,0.17],[-0.25,-0.29],[-0.24,-0.31],[-0.22,-0.32],[-0.26,-0.27]
];

// solid green core of panel (b): each row is [y, [x values]]
const greenCoreB = [
  [0.20, [0.06,0.08,0.10,0.12,0.14]],
  [0.18, [0.03,0.05,0.07,0.09,0.11,0.13,0.15]],
  [0.16, [0.00,0.02,0.04,0.06,0.08,0.10,0.12,0.14,0.16]],
  [0.14, [-0.03,-0.01,0.01,0.03,0.05,0.07,0.09,0.11,0.13,0.15]],
  [0.12, [-0.06,-0.04,-0.02,0.00,0.02,0.04,0.06,0.08,0.10,0.12,0.14]],
  [0.10, [-0.07,-0.05,-0.03,-0.01,0.01,0.03,0.05,0.07,0.09,0.11,0.13]],
  [0.08, [-0.08,-0.06,-0.04,-0.02,0.00,0.02,0.04,0.06,0.08,0.10,0.12]],
  [0.06, [-0.09,-0.07,-0.05,-0.03,-0.01,0.01,0.03,0.05,0.07,0.09,0.11,0.13]],
  [0.04, [-0.10,-0.08,-0.06,-0.04,-0.02,0.00,0.02,0.04,0.06,0.08,0.10,0.12]],
  [0.02, [-0.11,-0.09,-0.07,-0.05,-0.03,-0.01,0.01,0.03,0.05,0.07,0.09,0.11]],
  [0.00, [-0.12,-0.10,-0.08,-0.06,-0.04,-0.02,0.00,0.02,0.04,0.06,0.08,0.10]],
  [-0.02, [-0.13,-0.11,-0.09,-0.07,-0.05,-0.03,-0.01,0.01,0.03,0.05,0.07,0.09]],
  [-0.04, [-0.14,-0.12,-0.10,-0.08,-0.06,-0.04,-0.02,0.00,0.02,0.04,0.06,0.08]],
  [-0.06, [-0.15,-0.13,-0.11,-0.09,-0.07,-0.05,-0.03,-0.01,0.01,0.03,0.05,0.07]],
  [-0.08, [-0.16,-0.14,-0.12,-0.10,-0.08,-0.06,-0.04,-0.02,0.00,0.02,0.04,0.06]],
  [-0.10, [-0.17,-0.15,-0.13,-0.11,-0.09,-0.07,-0.05,-0.03,-0.01,0.01,0.03]],
  [-0.12, [-0.18,-0.16,-0.14,-0.12,-0.10,-0.08,-0.06,-0.04,-0.02,0.00,0.02]],
  [-0.14, [-0.19,-0.17,-0.15,-0.13,-0.11,-0.09,-0.07,-0.05,-0.03,-0.01]],
  [-0.16, [-0.20,-0.18,-0.16,-0.14,-0.12,-0.10,-0.08,-0.06,-0.04]],
  [-0.18, [-0.21,-0.19,-0.17,-0.15,-0.13,-0.11,-0.09,-0.07]],
  [-0.20, [-0.22,-0.20,-0.18,-0.16,-0.14,-0.12,-0.10]],
  [-0.22, [-0.23,-0.21,-0.19,-0.17,-0.15,-0.13]],
  [-0.24, [-0.22,-0.20,-0.18,-0.16]],
  [-0.26, [-0.23,-0.21,-0.19]],
  [-0.28, [-0.22,-0.20]]
];

const colors = ['#ff0000', '#0000ff', '#008000'];
const FONT = '"Liberation Sans", Arial, sans-serif';

const pts = arr => arr.map(([x, y]) => ({ x, y }));
const rows2pts = rows => rows.flatMap(([y, xs]) => xs.map(x => [x, y]));
const fmt = v => (Math.abs(v) < 1e-9 ? '0' : v.toFixed(1));

// axes frame: zero lines under the points, box and inward ticks on top
const frame = {
  id: 'frame',
  beforeDatasetsDraw(chart) {
    const { ctx, chartArea: a, scales: { x, y } } = chart;
    const x0 = Math.round(x.getPixelForValue(0)) + 0.5;
    const y0 = Math.round(y.getPixelForValue(0)) + 0.5;
    ctx.save();
    ctx.strokeStyle = '#8c8c8c';
    ctx.lineWidth = 1;
    ctx.beginPath();
    ctx.moveTo(x0, a.top); ctx.lineTo(x0, a.bottom);
    ctx.moveTo(a.left, y0); ctx.lineTo(a.right, y0);
    ctx.stroke();
    ctx.restore();
  },
  afterDraw(chart) {
    const { ctx, chartArea: a, scales: { x, y } } = chart;
    ctx.save();
    ctx.strokeStyle = '#7a7a7a';
    ctx.lineWidth = 1.5;
    ctx.strokeRect(a.left, a.top, a.right - a.left, a.bottom - a.top);
    ctx.beginPath();
    tickVals.forEach(v => {
      const px = x.getPixelForValue(v), py = y.getPixelForValue(v);
      ctx.moveTo(px, a.bottom); ctx.lineTo(px, a.bottom - 6);
      ctx.moveTo(px, a.top); ctx.lineTo(px, a.top + 6);
      ctx.moveTo(a.left, py); ctx.lineTo(a.left + 6, py);
      ctx.moveTo(a.right, py); ctx.lineTo(a.right - 6, py);
    });
    ctx.stroke();
    ctx.restore();
  }
};

function axis(padding, extra) {
  return Object.assign({
    type: 'linear', min: -0.7, max: 0.7,
    grid: { display: false }, border: { display: false },
    afterBuildTicks: s => { s.ticks = tickVals.map(v => ({ value: v })); },
    ticks: { font: { family: FONT, size: 22 }, color: '#1a1a1a', autoSkip: false, maxRotation: 0, padding, callback: fmt }
  }, extra);
}

function scatterSet(data, color, radius, order) {
  return { data: pts(data), backgroundColor: color, borderWidth: 0, pointRadius: radius, pointHoverRadius: radius, order };
}

function fitSet(data) {
  return { data: pts(data), showLine: true, borderColor: '#000', borderWidth: 4.5, pointRadius: 0, order: 0 };
}

function makeChart(id, datasets, yWidth, padRight) {
  return new Chart(document.getElementById(id), {
    type: 'scatter',
    data: { datasets },
    options: {
      responsive: false, animation: false, events: [],
      layout: { padding: { top: 61, right: padRight, left: 0, bottom: 0 } },
      plugins: { legend: { display: false }, tooltip: { enabled: false } },
      scales: {
        x: axis(1, { position: 'bottom', afterFit: s => { s.height = 73; } }),
        y: axis(6, { position: 'left', afterFit: s => { s.width = yWidth; } })
      }
    },
    plugins: [frame]
  });
}

makeChart('chartA', [
  scatterSet(redA, colors[0], 2.6, 3),
  scatterSet(blueA, colors[1], 2.6, 2),
  scatterSet(greenA, colors[2], 2.6, 1),
  fitSet(fitA)
], 99, 56);

makeChart('chartB', [
  scatterSet(rows2pts(blueCoreB), colors[1], 5.2, 6),
  scatterSet(redB, colors[0], 3, 5),
  scatterSet(blueB, colors[1], 2.8, 4),
  scatterSet(rows2pts(greenCoreB), colors[2], 5.5, 3),
  scatterSet(greenB, colors[2], 2.8, 2),
  fitSet(fitB)
], 128, 31);

// ---- text overlays: titles, axis labels, stats tables, legends ----
function put(html, x, y, cls, style) {
  const d = document.createElement('div');
  d.className = cls;
  d.innerHTML = html;
  d.style.left = x + 'px';
  d.style.top = y + 'px';
  Object.assign(d.style, style || {});
  document.body.appendChild(d);
  return d;
}

const panels = [
  { cx: 391, ylx: 33, title: '(a) Meridional Velocity at 10 m', ytitle: 'Extrapolated Velocity',
    table: { left: 105, top: 84, w: 286, h: 138, hy: 97, hc: 212, hr: 320, lc: 143, cc: 218, rc: 313, ys: [125, 153, 180, 210] },
    rows: rowsA, corr: corrA, rmsd: rmsdA, series: seriesA,
    legend: { left: 522, top: 563, w: 156, h: 74, dot: 532, text: 553, ys: [578, 603, 628] } },
  { cx: 1161, ylx: 803, title: '(b) Meridional Velocity at 0.75°N', ytitle: 'Estimated Velocity',
    table: { left: 876, top: 84, w: 282, h: 140, hy: 97, hc: 1001, hr: 1107, lc: 918, cc: 1000, rc: 1092, ys: [128, 156, 183, 212] },
    rows: rowsB, corr: corrB, rmsd: rmsdB, series: seriesB,
    legend: { left: 1168, top: 563, w: 280, h: 80, dot: 1195, text: 1218, ys: [578, 603, 628] } }
];

panels.forEach(p => {
  put(p.title, p.cx, 27, 'c ttl');
  put('Measured Velocity (m s<sup>-1</sup>)', p.cx, 693, 'c axt');
  put(p.ytitle + ' (m s<sup>-1</sup>)', p.ylx, 360, 'c axt yt');

  const t = p.table;
  put('', t.left, t.top, 'box', { width: t.w + 'px', height: t.h + 'px', border: '1.5px solid #8a8a8a', boxSizing: 'border-box' });
  put('Correlation', t.hc, t.hy, 'c tb', { fontSize: '15.5px' });
  put('RMSD (m s<sup>-1</sup>)', t.hr, t.hy, 'c tb', { fontSize: '15.5px' });
  p.rows.forEach((r, i) => {
    const last = i === 3;
    const st = { fontSize: last ? '17px' : '16.5px', transform: 'translate(-50%, -50%)' + (last ? ' scaleY(1.3)' : '') };
    put(r, t.lc, t.ys[i], 'c tb', last ? { fontSize: '18px', transform: 'translate(-50%, -50%) scaleY(1.3)' } : st);
    put(p.corr[i], t.cc, t.ys[i], 'c tb', st);
    put(p.rmsd[i], t.rc, t.ys[i], 'c tb', st);
  });

  const g = p.legend;
  put('', g.left, g.top, 'box', { width: g.w + 'px', height: g.h + 'px', border: '1px solid #555', boxSizing: 'border-box' });
  p.series.forEach((s, i) => {
    put('', g.dot, g.ys[i], 'dot', { background: colors[i] });
    put(s, g.text, g.ys[i], 'l', { fontSize: '20px' });
  });
});
</script>
</body>
</html>
